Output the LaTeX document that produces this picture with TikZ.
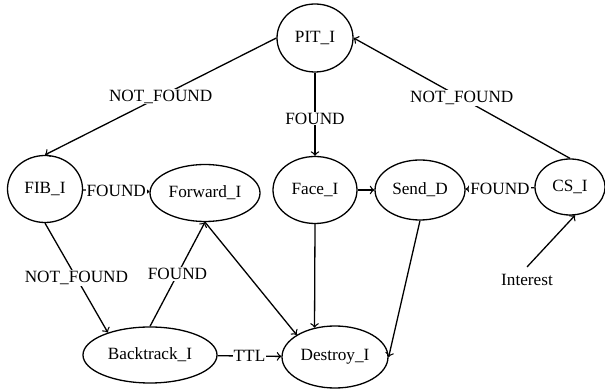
\documentclass[tikz,border=0pt]{standalone}
\usepackage{fontspec}
\setmainfont{Liberation Serif}
\usetikzlibrary{shapes.geometric}

\begin{document}
\begin{tikzpicture}[x=0.5pt, y=-0.5pt, line width=0.65pt, font=\fontsize{8.6}{10}\selectfont,
    state/.style={draw, ellipse, inner sep=0pt},
    lbl/.style={fill=white, inner sep=0.5pt}]
    \useasboundingbox (0,0) rectangle (605,389);
    \node[state, minimum width=38pt, minimum height=34pt] (pit) at (315,38) {PIT\_I};
    \node[state, minimum width=37.5pt, minimum height=33.5pt] (fib) at (45,189) {FIB\_I};
    \node[state, minimum width=55pt, minimum height=28.5pt] (fwd) at (205,193) {Forward\_I};
    \node[state, minimum width=42pt, minimum height=33.5pt] (face) at (315,190) {Face\_I};
    \node[state, minimum width=45pt, minimum height=30pt] (send) at (420,190) {Send\_D};
    \node[state, minimum width=35pt, minimum height=28pt] (cs) at (570,187) {CS\_I};
    \node[state, minimum width=67pt, minimum height=28pt] (back) at (150,355) {Backtrack\_I};
    \node[state, minimum width=53pt, minimum height=31pt] (destroy) at (335,357) {Destroy\_I};
    \node (interest) at (527,280) {Interest};
    \draw[->] (pit.west) -- node[lbl] {NOT\_FOUND} (fib.north);
    \draw[->] (cs.north) -- node[lbl] {NOT\_FOUND} (pit.east);
    \draw[->] (pit) -- node[lbl, pos=0.55] {FOUND} (face);
    \draw[->] (fib) -- node[lbl] {FOUND} (fwd);
    \draw[->] (cs) -- node[lbl] {FOUND} (send);
    \draw[->] (face) -- (send);
    \draw[->] (fib.south) -- node[lbl] {NOT\_FOUND} (back.152);
    \draw[->] (back.north) -- node[lbl] {FOUND} (fwd.south);
    \draw[->] (fwd.south) -- (destroy.150);
    \draw[->] (face.south) -- (destroy.125);
    \draw[->] (send.south) -- (destroy.east);
    \draw[->] (back) -- node[lbl] {TTL} (destroy);
    \draw[->] (interest.north) -- (cs.-80);
\end{tikzpicture}
\end{document}
